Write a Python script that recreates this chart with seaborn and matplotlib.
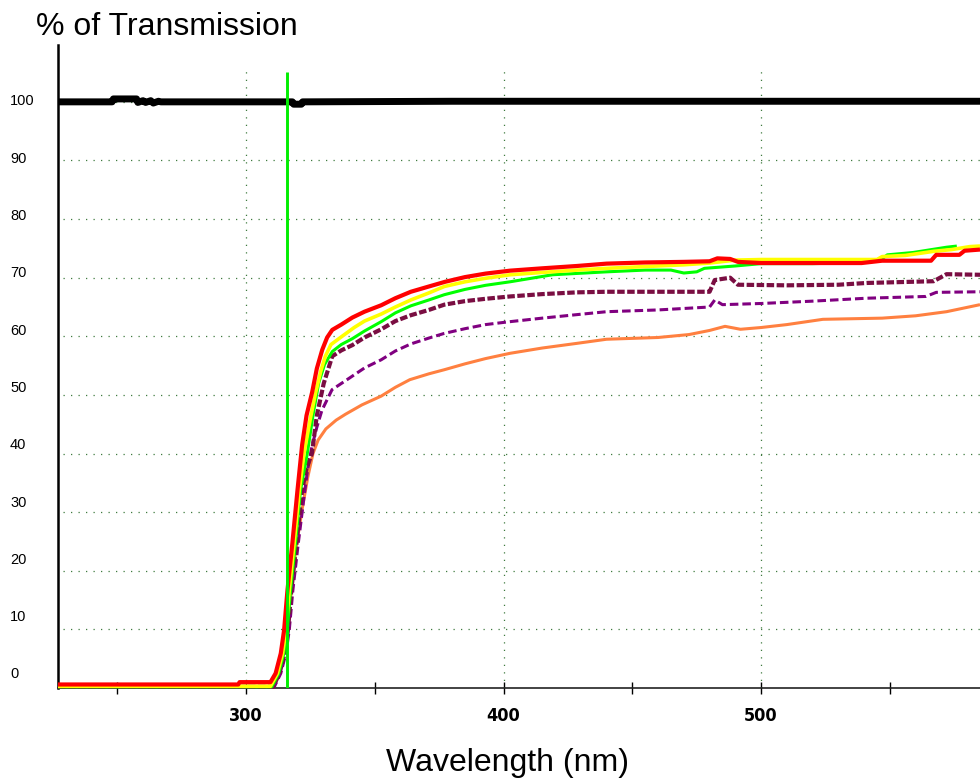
import numpy as np
import pandas as pd
import seaborn as sns
from matplotlib import pyplot as plt
from matplotlib.transforms import ScaledTranslation

# === DATA ===

ref_x = [227, 248, 248.5, 257.5, 258, 260, 261, 263, 264, 266, 267,
         318, 318.5, 321.5, 322, 380, 560, 585]
ref_y = [100, 100, 100.5, 100.5, 99.9, 100.2, 99.9, 100.2, 99.8, 100.1, 100,
         100, 99.6, 99.6, 100, 100.1, 100.1, 100.1]

red_x = [227, 297, 297.5, 309.5, 311.5, 313.5, 314.8, 316.1, 318, 320, 321.8,
         323.5, 325.7, 327.5, 329.6, 331.5, 333.5, 337, 341.3, 346, 352.5, 358,
         364, 371, 377.3, 385, 393, 402.5, 415, 428.5, 440, 455, 470, 480, 483,
         488, 491, 500, 515, 539, 547, 566, 568, 577, 579, 585]
red_y = [0.6, 0.6, 1.0, 1.0, 2.5, 5.9, 9.9, 16.7, 24.7, 33.8, 41.5,
         46.5, 50.5, 54.5, 57.7, 59.8, 61.1, 62.0, 63.2, 64.2, 65.3, 66.5,
         67.6, 68.5, 69.3, 70.1, 70.7, 71.2, 71.6, 72.0, 72.4, 72.6, 72.7, 72.8, 73.3,
         73.2, 72.7, 72.5, 72.5, 72.5, 72.9, 72.9, 73.9, 73.9, 74.6, 74.8]

yellow_x = [227, 309.5, 312.2, 314.2, 315.5, 316.8, 318.7, 320.7, 322.5, 325, 327,
            329, 330.8, 333, 337.3, 342, 346, 352.5, 358, 364, 371, 377, 385, 393,
            402.5, 415, 428.5, 440, 455, 470, 480, 490, 500, 520, 545, 547, 556,
            567, 574, 581, 585]
yellow_y = [0.3, 0.3, 2.5, 5.9, 9.9, 16.7, 24.7, 33.8, 40.0, 46.0, 50.3,
            54.0, 56.6, 58.6, 60.0, 61.5, 62.6, 63.8, 65.0, 66.2, 67.4, 68.5, 69.3, 69.9,
            70.5, 70.9, 71.3, 71.6, 71.9, 72.2, 72.5, 73.0, 73.1, 73.1, 73.1, 73.6, 73.8,
            74.5, 74.8, 75.3, 75.4]

green_x = [227, 310, 312.7, 314.7, 316, 317.3, 319.2, 321.2, 323.8, 326, 328.2,
           330.5, 333.5, 337, 341.3, 346, 352.5, 358, 364, 371, 377, 385, 393,
           402.5, 419, 440, 455, 465, 470, 475, 478, 490, 500, 520, 540, 546,
           549, 559, 572, 576]
green_y = [0.2, 0.2, 2.5, 5.9, 9.9, 16.7, 24.7, 33.8, 40.0, 46.5, 52.0,
           55.2, 57.4, 58.6, 59.6, 60.9, 62.5, 64.0, 65.2, 66.2, 67.1, 68.0, 68.7,
           69.3, 70.5, 71.0, 71.3, 71.3, 70.8, 71.0, 71.6, 72.0, 72.4, 72.4, 72.6, 72.9,
           73.9, 74.3, 75.2, 75.4]

maroon_x = [227, 310.5, 313, 315, 316.3, 317.6, 319.6, 321.8, 323.5, 325.6, 327.5,
            330.2, 333.5, 337, 341.3, 346, 352.5, 358, 364, 371, 377, 385, 393,
            402.5, 415, 428.5, 440, 460, 480, 482, 488, 491, 510, 530, 541, 567,
            572, 585]
maroon_y = [0.2, 0.2, 2.5, 5.9, 9.9, 16.7, 24.7, 33.8, 37.5, 40.0, 46.5,
            52.0, 56.6, 57.6, 58.5, 59.8, 61.2, 62.6, 63.6, 64.5, 65.4, 66.0, 66.4,
            66.8, 67.2, 67.5, 67.6, 67.6, 67.6, 69.6, 70.0, 68.8, 68.7, 68.8, 69.1, 69.4,
            70.6, 70.5]

purple_x = [227, 311, 313.5, 315.5, 316.8, 318.2, 320.3, 322.5, 324, 325.6, 327.5,
            329.5, 333.4, 339.9, 346, 352.5, 358, 364, 371, 377, 385, 393, 402.5,
            415, 428.5, 440, 460, 480, 482, 485, 500, 520, 541, 564, 568, 585]
purple_y = [0.2, 0.2, 2.5, 5.9, 9.9, 16.7, 24.7, 32.5, 37.5, 41.2, 44.5,
            47.4, 50.9, 52.8, 54.6, 56.0, 57.5, 58.7, 59.7, 60.5, 61.3, 62.0, 62.5,
            63.1, 63.7, 64.2, 64.5, 65.0, 66.2, 65.4, 65.6, 66.0, 66.5, 66.8, 67.5, 67.6]

orange_x = [227, 310, 312.8, 315.4, 317.4, 319.3, 321.8, 324, 326, 328, 331,
            335, 338.6, 345, 352.5, 358, 363.6, 371, 377, 385, 393, 402.5, 415,
            428.5, 440, 460, 472, 480, 486, 492, 500, 510, 524, 547, 560, 572, 585]
orange_y = [0.3, 0.3, 2.5, 9.3, 15.6, 23.5, 30.5, 36.0, 40.0, 42.3, 44.2,
            45.7, 46.7, 48.3, 49.8, 51.3, 52.6, 53.6, 54.3, 55.3, 56.2, 57.1, 58.0,
            58.8, 59.5, 59.8, 60.3, 61.0, 61.7, 61.2, 61.5, 62.0, 62.9, 63.1, 63.5, 64.2, 65.4]

cutoff_nm = 316

x_major = [300, 400, 500]
x_ticks = [250, 300, 350, 400, 450, 500, 550]
y_levels = [0, 10, 20, 30, 40, 50, 60, 70, 80, 90, 100]

# === PLOT ===

sns.set_style('white')
plt.rcParams['font.family'] = ['Liberation Sans', 'DejaVu Sans']
plt.rcParams['text.color'] = 'black'
plt.rcParams['xtick.color'] = 'black'
plt.rcParams['ytick.color'] = 'black'

fig = plt.figure(figsize=(9.8, 7.8), dpi=100)
ax = fig.add_axes([58 / 980, 92 / 780, 922 / 980, 643 / 780])

grid_kw = dict(color='#3f7a3f', lw=0.9, linestyles=(0, (1, 5)), zorder=1)
ax.hlines(y_levels[1:], 229, 585, **grid_kw)
ax.vlines(x_major, 0, 105.3, **grid_kw)

series = [
    (orange_x, orange_y, '#ff8040', 2.2, '-'),
    (purple_x, purple_y, '#800080', 2.2, (0, (2.8, 1.3))),
    (maroon_x, maroon_y, '#7a0e42', 3.0, (0, (1.8, 0.6))),
    (green_x, green_y, '#00ff00', 2.2, '-'),
    (yellow_x, yellow_y, '#ffff00', 2.6, '-'),
    (red_x, red_y, '#ff0000', 3.0, '-'),
]
for xs, ys, col, lw, ls in series:
    df = pd.DataFrame({'wl': xs, 'T': ys})
    sns.lineplot(data=df, x='wl', y='T', color=col, lw=lw, linestyle=ls,
                 estimator=None, errorbar=None, sort=False, ax=ax, zorder=3,
                 solid_capstyle='butt', clip_on=False)

ref = pd.DataFrame({'wl': ref_x, 'T': ref_y})
sns.lineplot(data=ref, x='wl', y='T', color='black', lw=5, estimator=None,
             errorbar=None, sort=False, ax=ax, zorder=4, clip_on=False,
             solid_capstyle='butt')

ax.vlines([cutoff_nm], 0, 105.1, color='#00ee00', lw=2.1, zorder=5)

ax.set_xlim(227, 585)
ax.set_ylim(0, 109.7)

for side in ('top', 'right'):
    ax.spines[side].set_visible(False)
ax.spines['left'].set_linewidth(1.8)
ax.spines['left'].set_color('black')
ax.spines['bottom'].set_linewidth(1.2)
ax.spines['bottom'].set_color('#222222')

ax.set_xticks(x_ticks)
ax.set_xticklabels([str(v) if v in x_major else '' for v in x_ticks],
                   family=['DejaVu Sans'], fontstretch='condensed',
                   fontweight='bold', fontsize=13)
ax.tick_params(axis='x', direction='inout', length=8, width=1, pad=10,
               colors='black', bottom=True)

ax.set_yticks(y_levels)
ax.set_yticklabels([str(v) for v in y_levels], fontsize=10.5, ha='left')
ax.tick_params(axis='y', length=0, pad=34.5, left=False)
for lab, v in zip(ax.get_yticklabels(), y_levels):
    off_px = 2 + (100 - v) * 0.13
    lab.set_transform(lab.get_transform() +
                      ScaledTranslation(0, off_px / 100, fig.dpi_scale_trans))

ax.set_xlabel('')
ax.set_ylabel('')
ax.grid(False)

fig.text(36 / 980, 1 - 27 / 780, '% of Transmission', fontsize=23,
         ha='left', va='center')
fig.text(507 / 980, 1 - 763 / 780, 'Wavelength (nm)', fontsize=23,
         ha='center', va='center')

fig.savefig('out.png', dpi=100)
